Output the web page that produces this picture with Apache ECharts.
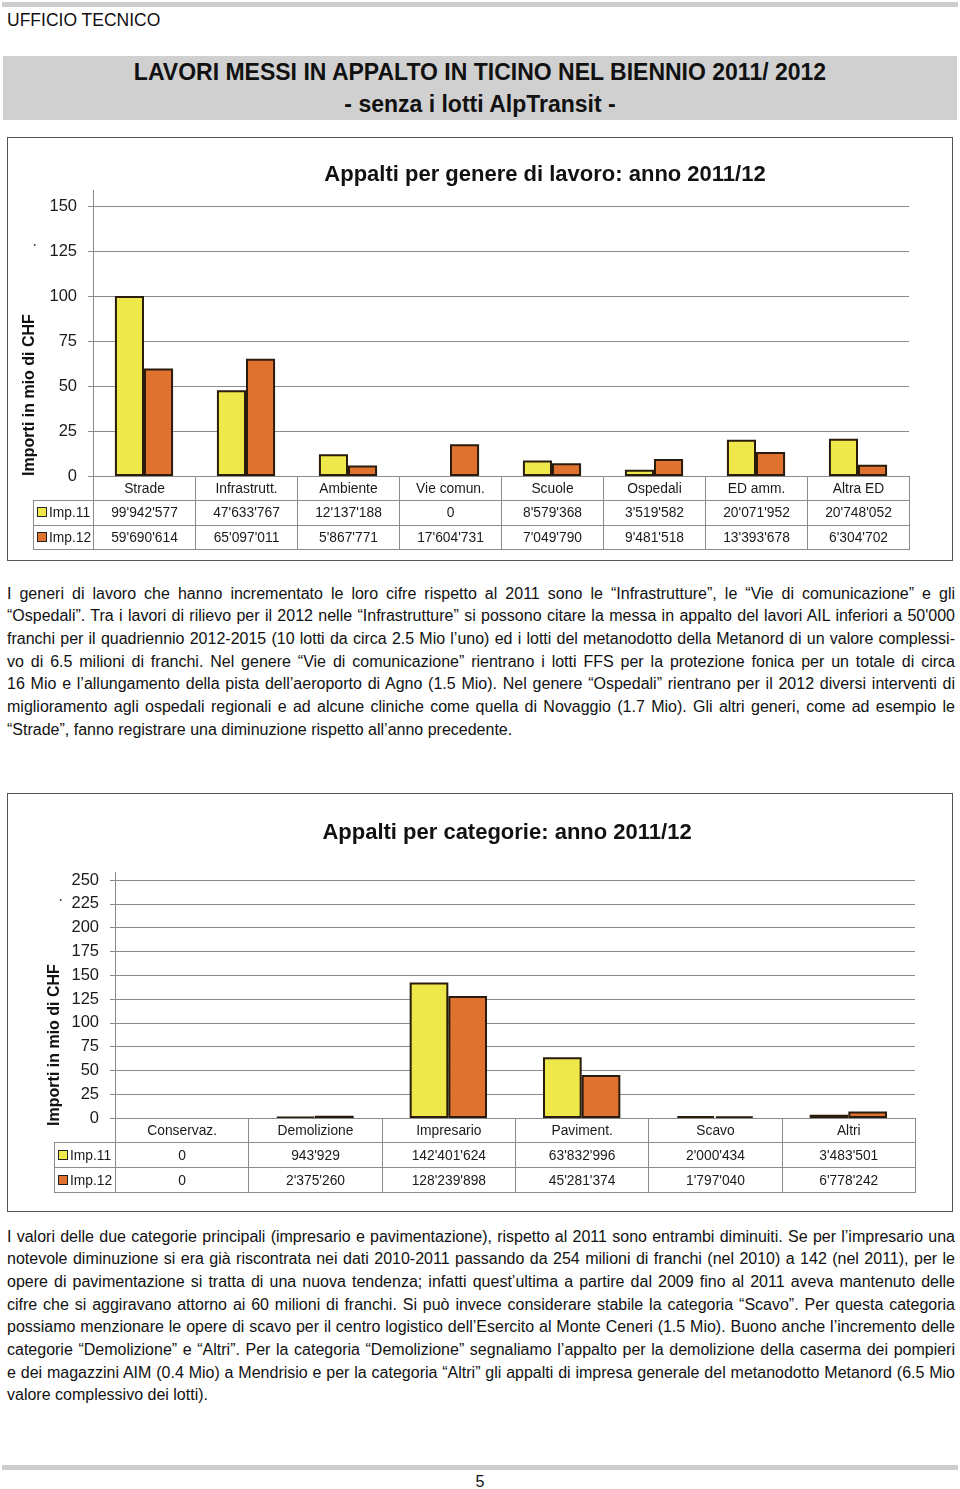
<!DOCTYPE html>
<html><head><meta charset="utf-8">
<script src="https://cdn.jsdelivr.net/npm/echarts@6/dist/echarts.min.js"></script>
<style>
html,body{margin:0;padding:0}
body{width:960px;height:1489px;position:relative;background:#fff;overflow:hidden;
 font-family:"Liberation Sans",Arial,sans-serif;color:#111}
.abs{position:absolute}
.bar{background:#cdcdcd}
.office{left:7px;top:9px;font-size:17.5px;line-height:22px}
.header{left:3px;top:56px;width:954px;height:64px;background:#d0d0d0;text-align:center;font-weight:bold;font-size:23px;line-height:32px}
.para{left:7px;width:948px;font-size:16px;line-height:22.7px}
.para > div{white-space:nowrap;height:22.7px}
.para > div > span{display:inline-block;white-space:nowrap;transform-origin:0 0}
.box{border:1px solid #555;box-sizing:border-box}
table.dt{position:absolute;border-collapse:collapse;table-layout:fixed;font-size:13.8px;color:#1a1a1a}
table.dt td{border:1px solid #8c8c8c;text-align:center;padding:0;white-space:nowrap;overflow:hidden}
table.dt td.empty{border:none}
table.dt td.lg{text-align:left;padding-left:3px}
.sw{display:inline-block;width:8px;height:8px;border:1px solid #222;margin-right:2px;vertical-align:0px}
</style></head>
<body>
<div class="abs bar" style="left:2px;top:2px;width:956px;height:5px"></div>
<div class="abs office">UFFICIO TECNICO</div>
<div class="abs header">LAVORI MESSI IN APPALTO IN TICINO NEL BIENNIO 2011/ 2012<br>- senza i lotti AlpTransit -</div>

<div class="abs box" style="left:7px;top:137px;width:946px;height:424px"><div id="c1" style="width:944px;height:422px"></div></div>

<div class="abs para" style="top:582.5px">
<div class="j"><span>I generi di lavoro che hanno incrementato le loro cifre rispetto al 2011 sono le “Infrastrutture”, le “Vie di comunicazione” e gli</span></div>
<div class="j"><span>“Ospedali”. Tra i lavori di rilievo per il 2012 nelle “Infrastrutture” si possono citare la messa in appalto del lavori AIL inferiori a 50'000</span></div>
<div class="j"><span>franchi per il quadriennio 2012-2015 (10 lotti da circa 2.5 Mio l’uno) ed i lotti del metanodotto della Metanord di un valore complessi-</span></div>
<div class="j"><span>vo di 6.5 milioni di franchi. Nel genere “Vie di comunicazione” rientrano i lotti FFS per la protezione fonica per un totale di circa</span></div>
<div class="j"><span>16 Mio e l’allungamento della pista dell’aeroporto di Agno (1.5 Mio). Nel genere “Ospedali” rientrano per il 2012 diversi interventi di</span></div>
<div class="j"><span>miglioramento agli ospedali regionali e ad alcune cliniche come quella di Novaggio (1.7 Mio). Gli altri generi, come ad esempio le</span></div>
<div><span>“Strade”, fanno registrare una diminuzione rispetto all’anno precedente.</span></div>
</div>

<div class="abs box" style="left:7px;top:793px;width:946px;height:419px"><div id="c2" style="width:944px;height:417px"></div></div>

<div class="abs para" style="top:1225.5px">
<div class="j"><span>I valori delle due categorie principali (impresario e pavimentazione), rispetto al 2011 sono entrambi diminuiti. Se per l’impresario una</span></div>
<div class="j"><span>notevole diminuzione si era già riscontrata nei dati 2010-2011 passando da 254 milioni di franchi (nel 2010) a 142 (nel 2011), per le</span></div>
<div class="j"><span>opere di pavimentazione si tratta di una nuova tendenza; infatti quest’ultima a partire dal 2009 fino al 2011 aveva mantenuto delle</span></div>
<div class="j"><span>cifre che si aggiravano attorno ai 60 milioni di franchi. Si può invece considerare stabile la categoria “Scavo”. Per questa categoria</span></div>
<div class="j"><span>possiamo menzionare le opere di scavo per il centro logistico dell’Esercito al Monte Ceneri (1.5 Mio). Buono anche l’incremento delle</span></div>
<div class="j"><span>categorie “Demolizione” e “Altri”. Per la categoria “Demolizione” segnaliamo l’appalto per la demolizione della caserma dei pompieri</span></div>
<div class="j"><span>e dei magazzini AIM (0.4 Mio) a Mendrisio e per la categoria “Altri” gli appalti di impresa generale del metanodotto Metanord (6.5 Mio</span></div>
<div><span>valore complessivo dei lotti).</span></div>
</div>

<div class="abs bar" style="left:2px;top:1465px;width:956px;height:5px"></div>
<div class="abs" style="left:0;width:960px;top:1472px;text-align:center;font-size:16px;line-height:20px">5</div>

<script>
// ---- data ----
const seriesNames = ['Imp.11', 'Imp.12'];
const cat1 = ['Strade', 'Infrastrutt.', 'Ambiente', 'Vie comun.', 'Scuole', 'Ospedali', 'ED amm.', 'Altra ED'];
const imp11_genere = [99942577, 47633767, 12137188, 0, 8579368, 3519582, 20071952, 20748052];
const imp12_genere = [59690614, 65097011, 5867771, 17604731, 7049790, 9481518, 13393678, 6304702];
const yTicks1 = [0, 25, 50, 75, 100, 125, 150];

const cat2 = ['Conservaz.', 'Demolizione', 'Impresario', 'Paviment.', 'Scavo', 'Altri'];
const imp11_categ = [0, 943929, 142401624, 63832996, 2000434, 3483501];
const imp12_categ = [0, 2375260, 128239898, 45281374, 1797040, 6778242];
const yTicks2 = [0, 25, 50, 75, 100, 125, 150, 175, 200, 225, 250];

// ---- style ----
const COLORS = ['#EFE84B', '#E07230'];
const FONT = '"Liberation Sans",Arial,sans-serif';
const AXIS_GRAY = '#8a8a8a';

function fmt(v){ return String(v).replace(/\B(?=(\d{3})+(?!\d))/g, "'"); }

function makeChart(el, cfg){
  const chart = echarts.init(document.getElementById(el), null, {renderer:'canvas'});
  const ticks = cfg.ticks;
  const ax = Math.round(cfg.gridLeft) + 0.5;
  chart.setOption({
    animation:false,
    textStyle:{fontFamily:FONT},
    grid:{left:cfg.gridLeft, top:cfg.gridTop, width:cfg.gridWidth, height:cfg.gridHeight, containLabel:false},
    xAxis:{type:'category', data:cfg.cats, axisLine:{show:false}, axisTick:{show:false}, axisLabel:{show:false}, splitLine:{show:false}},
    yAxis:{type:'value', min:ticks[0], max:ticks[ticks.length-1], interval:ticks[1]-ticks[0],
      axisLine:{show:true, lineStyle:{color:AXIS_GRAY, width:1}},
      axisTick:{show:true, length:5, lineStyle:{color:AXIS_GRAY}},
      axisLabel:{fontSize:16.5, margin:16, color:'#1a1a1a', fontFamily:FONT},
      splitLine:{show:true, lineStyle:{color:AXIS_GRAY, width:1}}},
    series:[
      {name:seriesNames[0], type:'bar', barWidth:cfg.barWidth, barGap:'0%',
       data:cfg.s1.map(v => v === 0 ? null : v/1e6),
       itemStyle:{color:COLORS[0], borderColor:'#2a1c0c', borderWidth:2}},
      {name:seriesNames[1], type:'bar', barWidth:cfg.barWidth, barGap:'0%',
       data:cfg.s2.map(v => v === 0 ? null : v/1e6),
       itemStyle:{color:COLORS[1], borderColor:'#2a1c0c', borderWidth:2}}
    ],
    graphic:[
      {type:'text', x:cfg.titleX, y:cfg.titleY, style:{text:cfg.title, font:'bold 22px '+FONT, fill:'#111', textAlign:'center', textVerticalAlign:'middle'}},
      {type:'text', x:cfg.nameX, y:cfg.nameY, rotation:Math.PI/2, style:{text:'Importi in mio di CHF', font:'bold 16px '+FONT, fill:'#111', textAlign:'center', textVerticalAlign:'middle'}},
      {type:'text', x:cfg.dotX, y:cfg.dotY, style:{text:'·', font:'16px '+FONT, fill:'#333'}},
      // axis line overshoot above the top gridline
      {type:'line', shape:{x1:ax, y1:cfg.gridTop - cfg.axisOver, x2:ax, y2:cfg.gridTop}, style:{stroke:AXIS_GRAY, lineWidth:1}}
    ]
  });
  return chart;
}

function makeTable(cfg){
  const t = document.createElement('table');
  t.className = 'dt';
  t.style.left = cfg.tableLeft + 'px';
  t.style.top = cfg.rowTop + 'px';
  const lgW = cfg.gridPageLeft - cfg.tableLeft;
  const cw = cfg.gridWidth / cfg.cats.length;
  t.style.width = (lgW + cfg.gridWidth) + 'px';
  let html = '<colgroup><col style="width:'+lgW+'px">' + cfg.cats.map(()=>'<col style="width:'+cw+'px">').join('') + '</colgroup>';
  html += '<tr style="height:'+cfg.hh+'px"><td class="empty"></td>' + cfg.cats.map(c=>'<td>'+c+'</td>').join('') + '</tr>';
  [cfg.s1, cfg.s2].forEach((s, k) => {
    html += '<tr style="height:'+cfg.rh+'px"><td class="lg"><span class="sw" style="background:'+COLORS[k]+'"></span>'+seriesNames[k]+'</td>' +
      s.map(v=>'<td>'+fmt(v)+'</td>').join('') + '</tr>';
  });
  t.innerHTML = html;
  document.body.appendChild(t);
}

// chart 1 (inner origin of box = page 8,138)
const c1 = {cats:cat1, s1:imp11_genere, s2:imp12_genere, ticks:yTicks1,
  gridLeft:85, gridTop:68, gridWidth:816, gridHeight:270, barWidth:'28.5%', axisOver:16,
  title:'Appalti per genere di lavoro: anno 2011/12', titleX:537, titleY:37,
  nameX:22, nameY:257, dotX:24, dotY:100,
  tableLeft:33, gridPageLeft:93, rowTop:476, hh:24, rh:24.5};
makeChart('c1', c1);
makeTable(c1);

// chart 2 (inner origin page 8,794)
const c2 = {cats:cat2, s1:imp11_categ, s2:imp12_categ, ticks:yTicks2,
  gridLeft:107, gridTop:86, gridWidth:800, gridHeight:238, barWidth:'29%', axisOver:8,
  title:'Appalti per categorie: anno 2011/12', titleX:499, titleY:39,
  nameX:47, nameY:251, dotX:50, dotY:99,
  tableLeft:54, gridPageLeft:115, rowTop:1118, hh:24, rh:25};
makeChart('c2', c2);
makeTable(c2);

// justify paragraph lines to the column width
const TARGET = 948;
document.querySelectorAll('.para > div').forEach(d => {
  const span = d.firstElementChild;
  const w = span.getBoundingClientRect().width;
  if (d.classList.contains('j')) {
    if (w > TARGET) {
      span.style.transform = 'scaleX(' + (TARGET / w) + ')';
    } else {
      const n = (span.textContent.match(/ /g) || []).length;
      if (n) span.style.wordSpacing = ((TARGET - w) / n) + 'px';
    }
  } else if (w > TARGET) {
    span.style.transform = 'scaleX(' + (TARGET / w) + ')';
  }
});
</script>
</body></html>
